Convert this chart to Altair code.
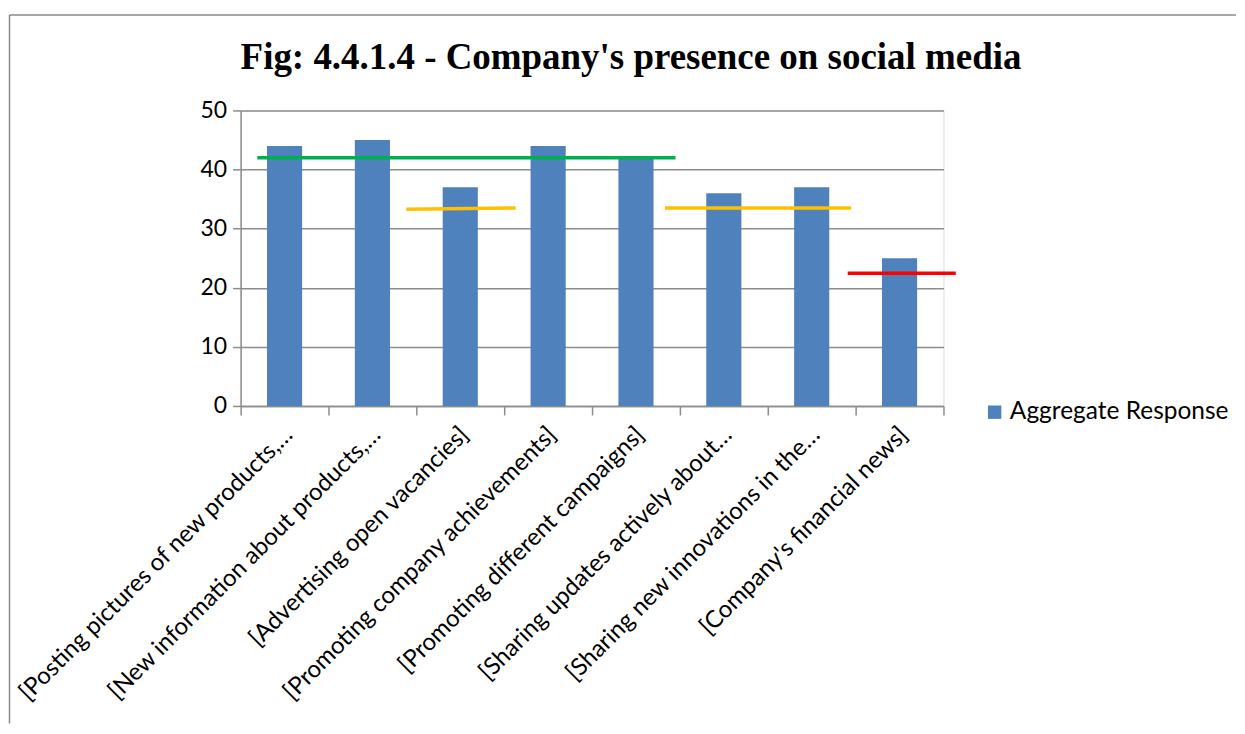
import altair as alt
import pandas as pd

# ---- data ----
categories = [
    "[Posting pictures of new products,…",
    "[New information about products,…",
    "[Advertising open vacancies]",
    "[Promoting company achievements]",
    "[Promoting different campaigns]",
    "[Sharing updates actively about…",
    "[Sharing new innovations in the…",
    "[Company's financial news]",
]
values = [44, 45, 37, 44, 42, 36, 37, 25]
series_name = "Aggregate Response"

# overlay segments (x in category units 0..8, y in value units)
seg_x0 = [0.19, 1.885, 4.83, 6.91]
seg_x1 = [4.95, 3.13, 6.95, 8.14]
seg_y0 = [42.0, 33.28, 33.5, 22.45]
seg_y1 = [42.0, 33.5, 33.5, 22.45]
seg_color = ["#00B050", "#FFC000", "#FFC000", "#FF0000"]

title_text = "Fig: 4.4.1.4 - Company's presence on social media"

bars_df = pd.DataFrame({"category": categories, "value": values, "series": series_name})
seg_df = pd.DataFrame({"x0": seg_x0, "x1": seg_x1, "y0": seg_y0, "y1": seg_y1, "color": seg_color})
one_df = pd.DataFrame({"k": [0]})

W, H = 704, 296
FONT = "Lato"
GRID = "#8c8c8c"

bars = alt.Chart(bars_df).mark_bar(width=alt.RelativeBandSize(0.4)).encode(
    x=alt.X(
        "category:N",
        sort=categories,
        title=None,
        scale=alt.Scale(paddingInner=0, paddingOuter=0),
        axis=alt.Axis(
            labelAngle=-45,
            labelAlign="right",
            labelBaseline="middle",
            labelFont=FONT,
            labelFontSize=24,
            labelColor="black",
            labelPadding=16,
            labelOffset=4,
            labelLimit=600,
            tickBand="extent",
            tickSize=9,
            tickColor=GRID,
            tickWidth=1.5,
            domainColor=GRID,
            domainWidth=1.5,
            grid=False,
        ),
    ),
    y=alt.Y(
        "value:Q",
        title=None,
        scale=alt.Scale(domain=[0, 50], nice=False),
        axis=alt.Axis(
            values=[0, 10, 20, 30, 40, 50],
            labelFont=FONT,
            labelFontSize=23,
            labelColor="black",
            labelPadding=6,
            tickSize=8,
            tickColor=GRID,
            tickWidth=1.5,
            domainColor=GRID,
            domainWidth=1.5,
            grid=True,
            gridColor=GRID,
            gridWidth=1.5,
        ),
    ),
    color=alt.Color(
        "series:N",
        scale=alt.Scale(range=["#4F81BD"]),
        legend=alt.Legend(
            title=None,
            orient="none",
            legendX=743,
            legendY=290,
            padding=0,
            symbolType="square",
            symbolSize=180,
            symbolStrokeWidth=0,
            labelFont=FONT,
            labelFontSize=24.5,
            labelColor="black",
            labelOffset=3,
            labelLimit=400,
        ),
    ),
)

segs = alt.Chart(seg_df).mark_rule(strokeWidth=3.5).encode(
    x=alt.X("x0:Q", scale=alt.Scale(domain=[0, 8], nice=False, zero=False), axis=None),
    x2="x1:Q",
    y=alt.Y("y0:Q"),
    y2="y1:Q",
    stroke=alt.Stroke("color:N", scale=None, legend=None),
)

border_v = alt.Chart(one_df).mark_rule(color="#8a8a8a", strokeWidth=1.5).encode(
    x=alt.value(-231.5), y=alt.value(-95.5), y2=alt.value(614)
)
border_h = alt.Chart(one_df).mark_rule(color="#8a8a8a", strokeWidth=1.5).encode(
    x=alt.value(-231.5), x2=alt.value(997), y=alt.value(-95.5)
)

chart = (
    alt.layer(bars, segs, border_v, border_h)
    .resolve_scale(x="independent")
    .properties(
        width=W,
        height=H,
        title=alt.TitleParams(
            title_text,
            font="Liberation Serif",
            fontSize=37,
            fontWeight="bold",
            color="black",
            anchor="middle",
            dx=39,
            baseline="alphabetic",
            offset=-92,
        ),
        padding={"left": 0, "top": 5, "right": 0, "bottom": 0},
    )
    .configure_view(stroke=None)
    .configure(background="white")
)

chart.save("out.html", embed_options={"renderer": "svg", "actions": False})
